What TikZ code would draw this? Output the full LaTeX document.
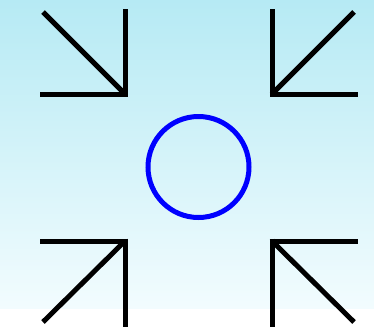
\documentclass[tikz,border=0pt]{standalone}
\begin{document}
\begin{tikzpicture}[x=1pt,y=-1pt,
  stroke/.style={line width=5pt,black,line cap=butt},
  ring/.style={draw=blue,line width=5pt,circle,minimum size=101pt,inner sep=0pt}]
\useasboundingbox (0,0) rectangle (374,330);
\fill[white] (0,0) rectangle (374,330);
\shade[top color={rgb,255:red,182;green,234;blue,244},bottom color={rgb,255:red,242;green,252;blue,254}] (0,0) rectangle (374,308);
% top-left
\coordinate (tlc) at (125,94);
\draw[stroke] (125,9) -- (125,96.5);
\draw[stroke] (40,94) -- (127.5,94);
\draw[stroke] (43,12) -- (tlc);
% top-right
\coordinate (trc) at (272,94);
\draw[stroke] (272,9) -- (272,96.5);
\draw[stroke] (269.5,94) -- (358,94);
\draw[stroke] (354,12) -- (trc);
% bottom-left
\coordinate (blc) at (125,241);
\draw[stroke] (40,241) -- (127.5,241);
\draw[stroke] (125,238.5) -- (125,327);
\draw[stroke] (43,322) -- (blc);
% bottom-right
\coordinate (brc) at (272,241);
\draw[stroke] (269.5,241) -- (358,241);
\draw[stroke] (272,238.5) -- (272,327);
\draw[stroke] (354,322) -- (brc);
% circle
\node[ring] (c) at (198.5,167) {};
\end{tikzpicture}
\end{document}
